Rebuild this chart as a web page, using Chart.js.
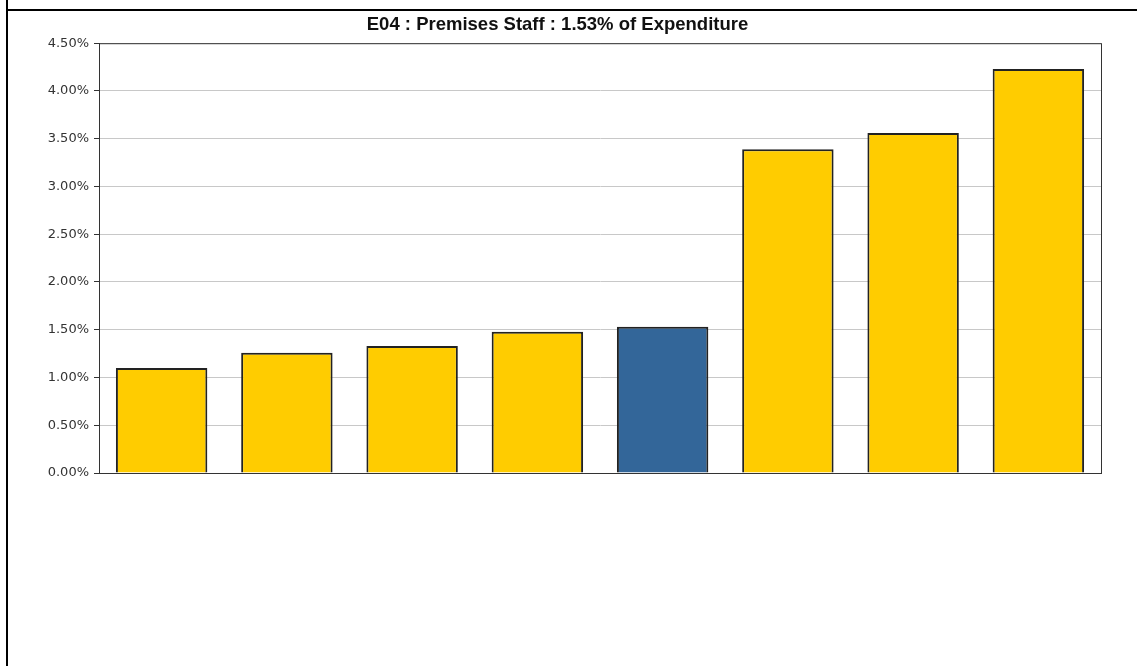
<!DOCTYPE html>
<html>
<head>
    <title>E04 Premises Staff</title>
    <script src="https://cdn.jsdelivr.net/npm/chart.js"></script>
    <style>
        body { margin: 0; background: #fff; }
        .vline { position: absolute; left: 6px; top: 0; width: 2px; height: 666px; background: #000; }
        .hline { position: absolute; left: 6px; top: 9px; width: 1131px; height: 2px; background: #000; }
        #myChart { position: absolute; left: 0; top: 0; }
    </style>
</head>
<body>
    <div class="vline"></div>
    <div class="hline"></div>
    <canvas id="myChart" width="1137" height="666"></canvas>
    <script>
        // values
        const schools = ['1', '2', '3', '4', '5', '6', '7', '8'];
        const shares = [1.10, 1.26, 1.33, 1.48, 1.53, 3.39, 3.56, 4.23];
        const barColours = ['#FFCC00', '#FFCC00', '#FFCC00', '#FFCC00', '#336699', '#FFCC00', '#FFCC00', '#FFCC00'];
        const titleText = 'E04 : Premises Staff : 1.53% of Expenditure';

        // box around the plot area
        const frame = {
            id: 'frame',
            afterDraw(chart) {
                const a = chart.chartArea;
                const c = chart.ctx;
                c.save();
                c.strokeStyle = '#333';
                c.lineWidth = 1;
                c.strokeRect(a.left + 0.5, a.top + 0.5, a.right - a.left, a.bottom - a.top);
                c.restore();
            }
        };

        const ctx = document.getElementById('myChart').getContext('2d');
        const myChart = new Chart(ctx, {
            type: 'bar',
            data: {
                labels: schools,
                datasets: [{
                    data: shares,
                    backgroundColor: barColours,
                    borderColor: '#222',
                    borderWidth: 2,
                    categoryPercentage: 1,
                    barPercentage: 0.73,
                }],
            },
            options: {
                responsive: false,
                animation: false,
                layout: { padding: { left: 14, right: 36, top: 0, bottom: 193 } },
                plugins: {
                    legend: { display: false },
                    tooltip: { enabled: false },
                    title: {
                        display: true,
                        text: titleText,
                        color: '#111',
                        font: { family: '"Liberation Sans Narrow", "Arial Narrow", "Liberation Sans"', size: 18.5, weight: 'bold', lineHeight: 1.2 },
                        padding: { top: 14, bottom: 7 },
                    },
                },
                scales: {
                    x: {
                        grid: { display: false },
                        border: { color: '#333', width: 1 },
                        ticks: { display: false },
                        afterFit: s => { s.height = 0; },
                    },
                    y: {
                        min: 0,
                        max: 4.5,
                        border: { color: '#333', width: 1 },
                        grid: { color: '#c8c8c8', tickColor: '#333', tickLength: 5 },
                        ticks: {
                            stepSize: 0.5,
                            padding: 5,
                            color: '#333',
                            font: { family: '"DejaVu Sans"', size: 13 },
                            callback: v => v.toFixed(2) + '%',
                        },
                        afterFit: s => { s.width = 85; },
                    },
                },
            },
            plugins: [frame],
        });
    </script>
</body>
</html>
